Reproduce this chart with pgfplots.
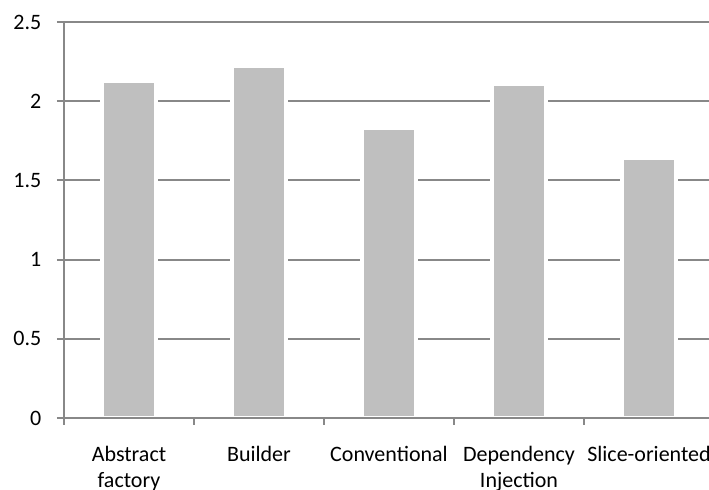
\documentclass[border=0pt]{standalone}
\usepackage{pgfplots}
\pgfplotsset{compat=1.18}
\usepackage{fontspec}
\setmainfont{Carlito}
\definecolor{barfill}{HTML}{BFBFBF}
\definecolor{axgray}{HTML}{888888}
\begin{document}
\fontsize{11}{13}\selectfont
\begin{tikzpicture}
\path[use as bounding box] (-32pt,-36pt) rectangle (322.5pt,209pt);
\begin{axis}[
  at={(0,0)}, anchor=south west,
  scale only axis,
  width=322.5pt, height=198pt,
  xmin=-0.5, xmax=4.4615,
  ymin=0, ymax=2.5,
  ytick={0,0.5,1,1.5,2,2.5},
  yticklabels={0,0.5,1,1.5,2,2.5},
  xtick={-0.5,0.5,1.5,2.5,3.5},
  xticklabels={{Abstract\\factory},Builder,Conventional,{Dependency\\Injection},Slice-oriented},
  xticklabel style={align=center, xshift=32.5pt, yshift=-7pt, font=\fontsize{11}{12.6}\selectfont},
  yticklabel style={font=\fontsize{11}{13}\selectfont, xshift=-4pt},
  /pgf/number format/assume math mode=true,
  axis x line=bottom, axis y line=left,
  axis line style={-, draw=axgray, line width=1pt},
  tick align=outside,
  major tick length=3.5pt,
  tick style={draw=axgray, line width=1pt},
  ymajorgrids,
  grid style={draw=axgray, line width=1pt},
  ybar, bar width=0.415,
  clip=false,
]
\addplot[fill=barfill, draw=white, line width=2pt] coordinates {
  (0,2.13) (1,2.22) (2,1.83) (3,2.11) (4,1.64)
};
\draw[axgray, line width=1pt] (axis cs:-0.5,0) -- (axis cs:4.4615,0);
\end{axis}
\end{tikzpicture}
\end{document}
